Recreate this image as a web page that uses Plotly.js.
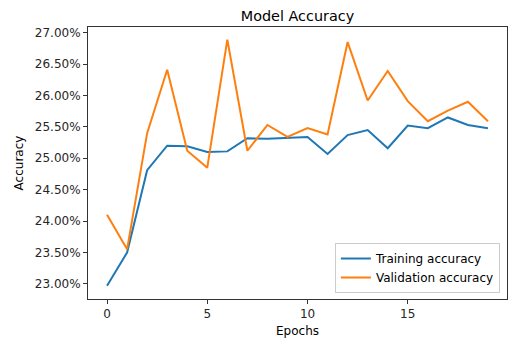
<!DOCTYPE html>
<html>
<head>
<meta charset="utf-8">
<script src="https://cdn.plot.ly/plotly-3.0.1.min.js"></script>
<style>html,body{margin:0;padding:0;background:#fff;}#chart{width:518px;height:351px;}</style>
</head>
<body>
<div id="chart"></div>
<script>
const epochs = [0,1,2,3,4,5,6,7,8,9,10,11,12,13,14,15,16,17,18,19];
const trainingAcc = [0.2297,0.2350,0.2481,0.2520,0.2519,0.2510,0.2511,0.2532,0.2531,0.2533,0.2534,0.2507,0.2537,0.2545,0.2516,0.2552,0.2548,0.2565,0.2553,0.2548];
const validationAcc = [0.2410,0.2355,0.2540,0.2641,0.2512,0.2485,0.2689,0.2512,0.2553,0.2534,0.2548,0.2538,0.2685,0.2592,0.2639,0.2591,0.2559,0.2576,0.2590,0.2559];
const yTicks = [0.23,0.235,0.24,0.245,0.25,0.255,0.26,0.265,0.27];
const xTicks = [0,5,10,15];

const FF = 'DejaVu Sans, sans-serif';
const font = {family: FF, size: 12, color: '#262626'};
const axisCommon = {
  showgrid: false, zeroline: false, showline: true, mirror: true,
  linecolor: '#333', linewidth: 1, ticks: 'outside', ticklen: 4,
  tickcolor: '#333', tickwidth: 1, tickfont: font
};
const data = [
  {x: epochs, y: trainingAcc, type: 'scatter', mode: 'lines', name: 'Training accuracy',
   line: {color: '#1f77b4', width: 2}},
  {x: epochs, y: validationAcc, type: 'scatter', mode: 'lines', name: 'Validation accuracy',
   line: {color: '#ff7f0e', width: 2}}
];
const layout = {
  width: 518, height: 351,
  margin: {l: 88, r: 11, t: 27, b: 52},
  paper_bgcolor: '#fff', plot_bgcolor: '#fff',
  font: font,
  title: {text: 'Model Accuracy', font: {family: FF, size: 14.4, color: '#000'},
          x: 0.5, xref: 'paper', xanchor: 'center', y: 1, yref: 'paper', yanchor: 'bottom', pad: {b: 6}},
  xaxis: Object.assign({}, axisCommon, {
    range: [-0.95, 19.95], tickvals: xTicks, ticktext: xTicks.map(String),
    title: {text: 'Epochs', font: {family: FF, size: 12, color: '#000'}, standoff: 6}
  }),
  yaxis: Object.assign({}, axisCommon, {
    range: [0.2276, 0.2709], tickvals: yTicks, tickformat: '.2%',
    title: {text: 'Accuracy', font: {family: FF, size: 12, color: '#000'}, standoff: 8}
  }),
  showlegend: true,
  legend: {x: 0.983, y: 0.022, xanchor: 'right', yanchor: 'bottom',
           bgcolor: 'rgba(255,255,255,0.8)', bordercolor: '#ccc', borderwidth: 1,
           font: {family: FF, size: 12, color: '#000'}, tracegroupgap: 0, itemwidth: 30}
};
Plotly.newPlot('chart', data, layout, {displayModeBar: false, staticPlot: true});
</script>
</body>
</html>
